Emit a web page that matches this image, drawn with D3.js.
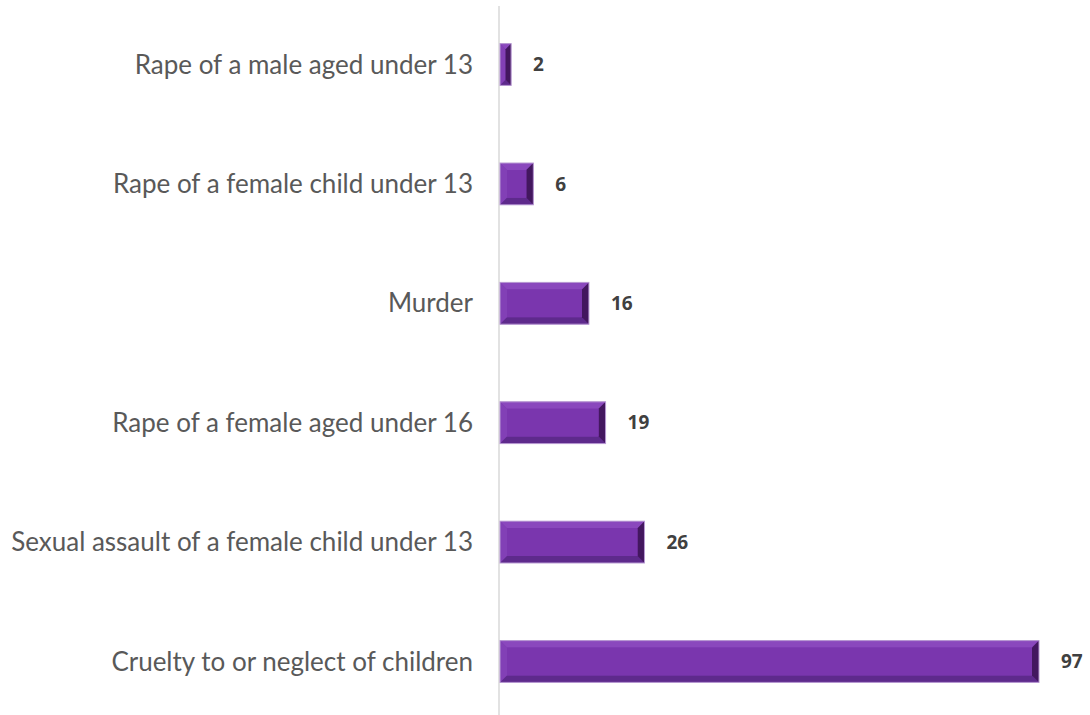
<!DOCTYPE html>
<html lang="en">
<head>
    <meta charset="UTF-8">
    <title>Offences bar chart</title>
    <script src="https://d3js.org/d3.v7.min.js"></script>
    <style>
        body { margin: 0; background: #fff; }
        .cat text { font-family: Lato, "Open Sans", sans-serif; font-size: 26px; fill: #595959; }
        .val { font-family: "Open Sans", Lato, sans-serif; font-size: 19px; font-weight: 700; fill: #404040; }
    </style>
</head>
<body>
<script>
    // data, top to bottom
    const categories = [
        "Rape of a male aged under 13",
        "Rape of a female child under 13",
        "Murder",
        "Rape of a female aged under 16",
        "Sexual assault of a female child under 13",
        "Cruelty to or neglect of children"
    ];
    const values = [2, 6, 16, 19, 26, 97];

    const W = 1090, H = 715;
    const x0 = 500;

    const svg = d3.select("body").append("svg")
        .attr("width", W)
        .attr("height", H);

    const x = d3.scaleLinear().domain([0, 97]).range([x0, 1039]);
    const y = d3.scaleBand().domain(categories).range([4.8, 721.2])
        .paddingInner(0.65).paddingOuter(0.325);

    // category axis line
    svg.append("line")
        .attr("x1", x0 - 1).attr("x2", x0 - 1)
        .attr("y1", 6).attr("y2", H)
        .attr("stroke", "#d9d9d9").attr("stroke-width", 1.5);

    // category labels
    const cat = svg.append("g").attr("class", "cat");
    cat.selectAll("text")
        .data(categories)
        .join("text")
        .attr("x", 473)
        .attr("y", d => y(d) + y.bandwidth() / 2)
        .attr("dy", "0.35em")
        .attr("text-anchor", "end")
        .text(d => d);

    /* bevelled bars: centre + four edge faces */
    const bars = svg.append("g");
    categories.forEach((c, i) => {
        const bx = x(0), by = y(c), bw = x(values[i]) - x(0), bh = y.bandwidth();
        const b = Math.min(7, bw / 2, bh / 2);
        const g = bars.append("g");
        const pts = arr => arr.map(p => p.join(",")).join(" ");
        g.append("rect").attr("x", bx).attr("y", by).attr("width", bw).attr("height", bh)
            .attr("fill", "#7a36ae");
        // top face
        g.append("polygon").attr("points", pts([[bx, by], [bx + bw, by], [bx + bw - b, by + b], [bx + b, by + b]]))
            .attr("fill", "#8a48bd");
        // left face
        g.append("polygon").attr("points", pts([[bx, by], [bx + b, by + b], [bx + b, by + bh - b], [bx, by + bh]]))
            .attr("fill", "#8240b6");
        // bottom face
        g.append("polygon").attr("points", pts([[bx, by + bh], [bx + b, by + bh - b], [bx + bw - b, by + bh - b], [bx + bw, by + bh]]))
            .attr("fill", "#5e2a8c");
        // right face
        g.append("polygon").attr("points", pts([[bx + bw, by], [bx + bw, by + bh], [bx + bw - b, by + bh - b], [bx + bw - b, by + b]]))
            .attr("fill", "#43175f");
        // centre
        g.append("rect").attr("x", bx + b).attr("y", by + b)
            .attr("width", Math.max(0, bw - 2 * b)).attr("height", bh - 2 * b)
            .attr("fill", "#7a36ae");
        // thin light outline
        g.append("rect").attr("x", bx).attr("y", by).attr("width", bw).attr("height", bh)
            .attr("fill", "none").attr("stroke", "#b99bd3").attr("stroke-width", 1);
    });

    // value labels
    svg.append("g").selectAll("text")
        .data(values)
        .join("text")
        .attr("class", "val")
        .attr("x", d => x(d) + 22)
        .attr("y", (d, i) => y(categories[i]) + y.bandwidth() / 2)
        .attr("dy", "0.35em")
        .text(d => d);
</script>
</body>
</html>
